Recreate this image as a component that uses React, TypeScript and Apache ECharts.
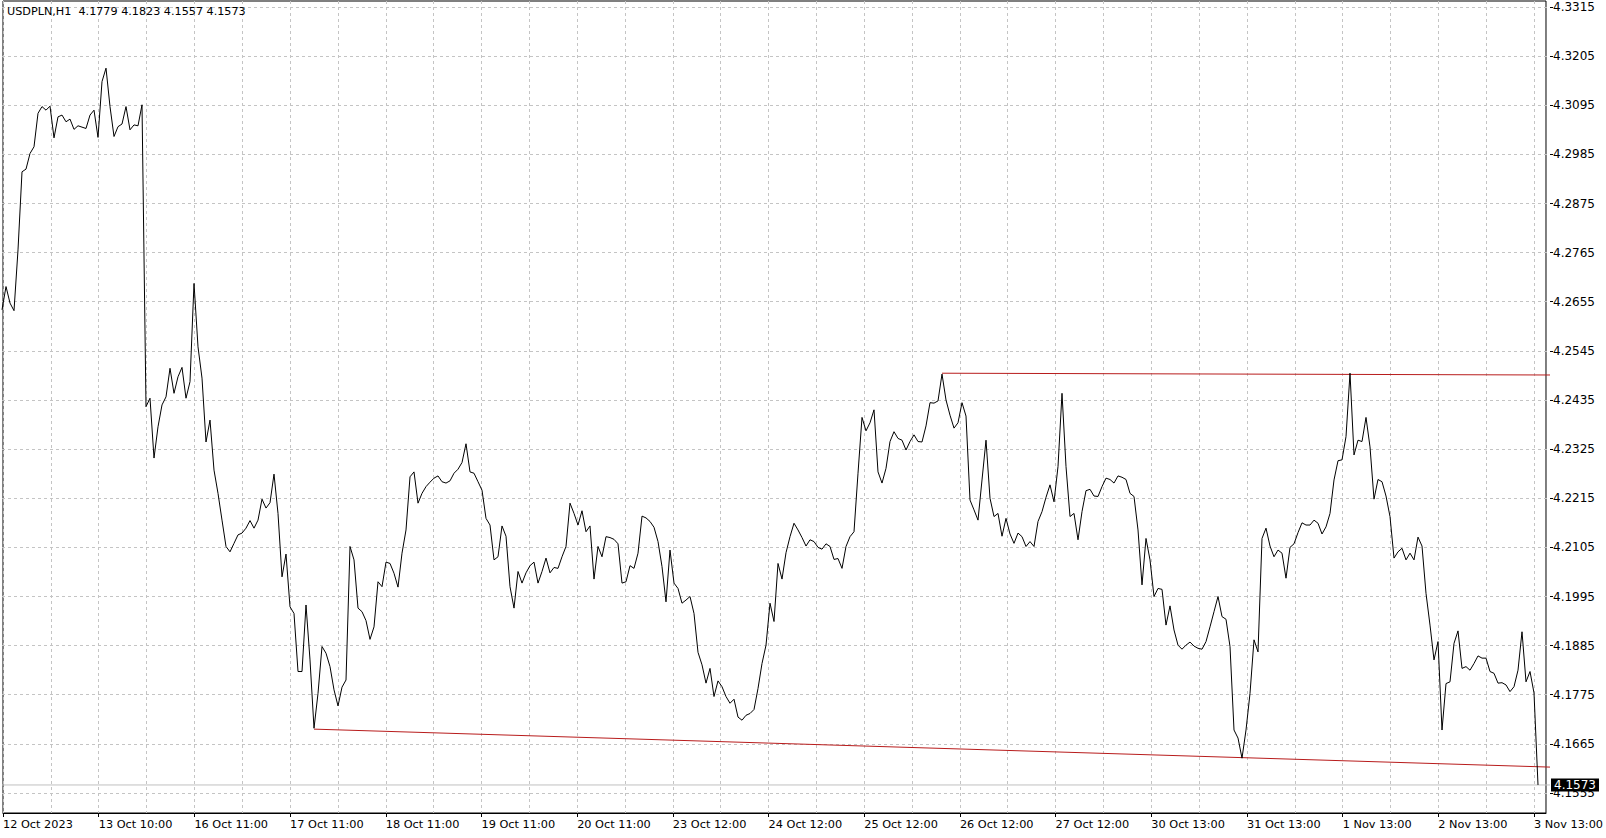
import { useEffect, useRef } from 'react';
import * as echarts from 'echarts';

// ---- data ----
const symbolName = 'USDPLN,H1';
const lastBarOHLC = [4.1779, 4.1823, 4.1557, 4.1573];

const tickLabels = [
  '12 Oct 2023', '13 Oct 10:00', '16 Oct 11:00', '17 Oct 11:00', '18 Oct 11:00',
  '19 Oct 11:00', '20 Oct 11:00', '23 Oct 12:00', '24 Oct 12:00', '25 Oct 12:00',
  '26 Oct 12:00', '27 Oct 12:00', '30 Oct 13:00', '31 Oct 13:00', '1 Nov 13:00',
  '2 Nov 13:00', '3 Nov 13:00',
];
const barsPerLabel = 24;
const emptySlotsRight = 3;

const priceMin = 4.1555;
const priceMax = 4.3315;
const priceStep = 0.011;

// hourly closes, one per bar
const closes = [
  4.2637, 4.2689, 4.2652, 4.2635, 4.2771, 4.2946, 4.2952, 4.2987, 4.3002, 4.3077,
  4.3092, 4.3084, 4.3093, 4.3022, 4.3069, 4.3073, 4.3058, 4.3064, 4.3041, 4.3049,
  4.3046, 4.3043, 4.3073, 4.3084, 4.3023, 4.3148, 4.3178, 4.3092, 4.3025, 4.3047,
  4.3053, 4.3092, 4.3040, 4.3051, 4.3049, 4.3096, 4.2420, 4.2439, 4.2305, 4.2375,
  4.2424, 4.2442, 4.2506, 4.2450, 4.2487, 4.2508, 4.2439, 4.2476, 4.2696, 4.2554,
  4.2484, 4.2341, 4.2390, 4.2278, 4.2226, 4.2166, 4.2107, 4.2095, 4.2114, 4.2133,
  4.2137, 4.2148, 4.2165, 4.2148, 4.2166, 4.2213, 4.2193, 4.2205, 4.2269, 4.2181,
  4.2039, 4.2090, 4.1972, 4.1957, 4.1827, 4.1827, 4.1976, 4.1853, 4.1700, 4.1778,
  4.1883, 4.1868, 4.1838, 4.1786, 4.1750, 4.1792, 4.1808, 4.2107, 4.2077, 4.1969,
  4.1961, 4.1941, 4.1899, 4.1927, 4.2028, 4.2017, 4.2072, 4.2069, 4.2047, 4.2016,
  4.2092, 4.2144, 4.2263, 4.2274, 4.2204, 4.2226, 4.2241, 4.2251, 4.2260, 4.2265,
  4.2252, 4.2249, 4.2254, 4.2271, 4.2280, 4.2295, 4.2337, 4.2274, 4.2271, 4.2252,
  4.2233, 4.2170, 4.2155, 4.2077, 4.2084, 4.2153, 4.2130, 4.2017, 4.1969, 4.2051,
  4.2025, 4.2048, 4.2064, 4.2072, 4.2025, 4.2051, 4.2081, 4.2048, 4.2060, 4.2058,
  4.2084, 4.2107, 4.2204, 4.2181, 4.2155, 4.2187, 4.2140, 4.2153, 4.2034, 4.2107,
  4.2084, 4.2129, 4.2127, 4.2123, 4.2113, 4.2025, 4.2028, 4.2064, 4.2058, 4.2092,
  4.2175, 4.2171, 4.2163, 4.2150, 4.2118, 4.2062, 4.1983, 4.2099, 4.2025, 4.2013,
  4.1980, 4.1987, 4.1995, 4.1957, 4.1870, 4.1842, 4.1801, 4.1834, 4.1771, 4.1806,
  4.1793, 4.1771, 4.1756, 4.1765, 4.1725, 4.1718, 4.1729, 4.1733, 4.1742, 4.1789,
  4.1845, 4.1886, 4.1980, 4.1939, 4.2069, 4.2034, 4.2093, 4.2129, 4.2159, 4.2144,
  4.2127, 4.2108, 4.2122, 4.2118, 4.2105, 4.2101, 4.2113, 4.2107, 4.2078, 4.2080,
  4.2058, 4.2107, 4.2129, 4.2140, 4.2271, 4.2396, 4.2366, 4.2384, 4.2413, 4.2274,
  4.2249, 4.2282, 4.2342, 4.2364, 4.2349, 4.2345, 4.2323, 4.2342, 4.2357, 4.2342,
  4.2341, 4.2377, 4.2429, 4.2428, 4.2433, 4.2493, 4.2435, 4.2401, 4.2372, 4.2384,
  4.2429, 4.2399, 4.2211, 4.2189, 4.2166, 4.2256, 4.2345, 4.2215, 4.2174, 4.2181,
  4.2130, 4.2170, 4.2135, 4.2114, 4.2137, 4.2129, 4.2107, 4.2118, 4.2107, 4.2163,
  4.2185, 4.2217, 4.2245, 4.2207, 4.2286, 4.2450, 4.2286, 4.2174, 4.2181, 4.2122,
  4.2185, 4.2232, 4.2235, 4.2220, 4.2219, 4.2241, 4.2260, 4.2257, 4.2249, 4.2265,
  4.2262, 4.2257, 4.2226, 4.2219, 4.2144, 4.2021, 4.2125, 4.2077, 4.1995, 4.2013,
  4.2011, 4.1931, 4.1974, 4.1920, 4.1886, 4.1877, 4.1886, 4.1893, 4.1884, 4.1879,
  4.1877, 4.1894, 4.1927, 4.1961, 4.1995, 4.1950, 4.1944, 4.1883, 4.1696, 4.1678,
  4.1633, 4.1696, 4.1778, 4.1898, 4.1871, 4.2125, 4.2148, 4.2108, 4.2084, 4.2099,
  4.2092, 4.2036, 4.2105, 4.2113, 4.2138, 4.2160, 4.2155, 4.2155, 4.2166, 4.2159,
  4.2135, 4.2151, 4.2181, 4.2256, 4.2299, 4.2301, 4.2353, 4.2495, 4.2312, 4.2345,
  4.2342, 4.2396, 4.2330, 4.2213, 4.2257, 4.2252, 4.2220, 4.2174, 4.2081, 4.2095,
  4.2103, 4.2077, 4.2092, 4.2077, 4.2128, 4.2108, 4.2002, 4.1931, 4.1853, 4.1894,
  4.1696, 4.1800, 4.1804, 4.1890, 4.1918, 4.1834, 4.1838, 4.1830, 4.1845, 4.1862,
  4.1857, 4.1857, 4.1827, 4.1823, 4.1801, 4.1802, 4.1797, 4.1782, 4.1793, 4.1830,
  4.1916, 4.1804, 4.1827, 4.1779, 4.1573,
];

// trend lines: [bar index, price]
const supportLine = [[78, 4.1698], [387, 4.1613]];
const resistanceLine = [[235, 4.2495], [387, 4.2491]];

const FONT = "'DejaVu Sans', Verdana, sans-serif";
const GRID_COLOR = '#c4c4c4';
const TREND_COLOR = '#b81c1c';
const BID_COLOR = '#c0c0c0';

export default function App() {
  const ref = useRef<HTMLDivElement>(null);

  useEffect(() => {
    if (!ref.current) return;
    const chart = echarts.init(ref.current, undefined, { renderer: 'svg' });

    const slotCount = closes.length + emptySlotsRight;
    const slots = Array.from({ length: slotCount }, (_, i) => String(i));
    const isLabelIdx = (i: number) => i % barsPerLabel === 0 && i / barsPerLabel < tickLabels.length;
    const isGridIdx = (i: number) => i % (barsPerLabel / 2) === 0 && i < closes.length;
    const lastClose = lastBarOHLC[3];
    const bidLine = [[0, lastClose], [slotCount - 1, lastClose]];

    const option: any = {
      animation: false,
      backgroundColor: '#ffffff',
      title: {
        text: `${symbolName}  ${lastBarOHLC.map((v) => v.toFixed(4)).join(' ')}`,
        left: 7,
        top: 6,
        padding: 0,
        textStyle: { fontSize: 11.2, fontWeight: 'normal', color: '#000', fontFamily: FONT },
      },
      grid: [
        { left: 2, top: 1, width: 1548, height: 812, show: true, borderColor: '#000', borderWidth: 1, backgroundColor: 'rgba(0,0,0,0)' },
        { left: 2, top: 7, width: 1548, height: 786, show: false },
      ],
      xAxis: [
        {
          type: 'category',
          gridIndex: 0,
          data: slots,
          boundaryGap: false,
          axisLine: { show: true, lineStyle: { color: '#000', width: 1 } },
          axisTick: { show: true, interval: (i: number) => isLabelIdx(i), length: 4, lineStyle: { color: '#000' } },
          axisLabel: {
            show: true,
            interval: (i: number) => isLabelIdx(i),
            formatter: (_v: string, i: number) => (isLabelIdx(i) ? tickLabels[i / barsPerLabel] : ''),
            align: 'left',
            margin: 6,
            color: '#000',
            fontSize: 11.3,
            fontFamily: FONT,
          },
          splitLine: { show: true, interval: (i: number) => isGridIdx(i), lineStyle: { color: GRID_COLOR, type: [3, 3], width: 1 } },
        },
        { type: 'category', gridIndex: 1, data: slots, boundaryGap: false, show: false },
      ],
      yAxis: [
        { type: 'value', gridIndex: 0, show: false, min: 0, max: 1, splitLine: { show: false } },
        {
          type: 'value',
          gridIndex: 1,
          position: 'right',
          min: priceMin,
          max: priceMax,
          interval: priceStep,
          axisLine: { show: false },
          axisTick: { show: true, length: 3, lineStyle: { color: '#000' } },
          axisLabel: { margin: 3, color: '#000', fontSize: 12, fontFamily: FONT, formatter: (v: number) => v.toFixed(4) },
          splitLine: { show: true, lineStyle: { color: GRID_COLOR, type: [3, 3], width: 1 } },
        },
      ],
      series: [
        {
          name: 'bid',
          type: 'line',
          xAxisIndex: 1,
          yAxisIndex: 1,
          data: bidLine,
          symbol: 'none',
          lineStyle: { color: BID_COLOR, width: 1 },
          z: 1,
          silent: true,
          endLabel: {
            show: true,
            distance: 1,
            formatter: () => lastClose.toFixed(4),
            color: '#fff',
            backgroundColor: '#000',
            padding: [1, 3, 0, 3],
            fontSize: 12,
            lineHeight: 12,
            fontFamily: FONT,
          },
        },
        {
          type: 'line',
          xAxisIndex: 1,
          yAxisIndex: 1,
          data: supportLine,
          symbol: 'none',
          lineStyle: { color: TREND_COLOR, width: 1 },
          z: 2,
          silent: true,
        },
        {
          type: 'line',
          xAxisIndex: 1,
          yAxisIndex: 1,
          data: resistanceLine,
          symbol: 'none',
          lineStyle: { color: TREND_COLOR, width: 1 },
          z: 2,
          silent: true,
        },
        {
          type: 'line',
          xAxisIndex: 1,
          yAxisIndex: 1,
          data: closes,
          symbol: 'none',
          showSymbol: false,
          lineStyle: { color: '#000', width: 1 },
          z: 3,
          silent: true,
        },
      ],
    };

    chart.setOption(option);
    return () => chart.dispose();
  }, []);

  return (
    <div
      ref={ref}
      style={{ position: 'absolute', left: 0, top: 0, width: 1606, height: 838, background: '#fff' }}
    />
  );
}
